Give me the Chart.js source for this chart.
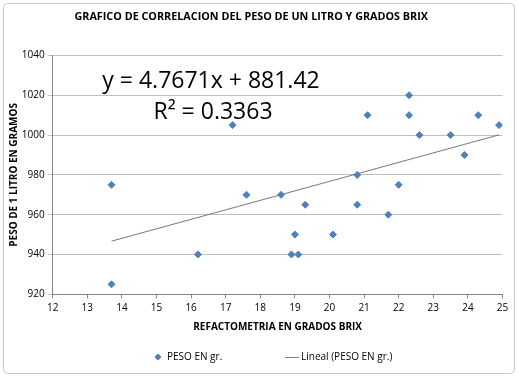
<!DOCTYPE html>
<html>
<head>
<meta charset="utf-8">
<script src="https://cdn.jsdelivr.net/npm/chart.js@4.4.0/dist/chart.umd.min.js"></script>
<style>
  html, body { margin: 0; padding: 0; background: #fff; }
  #wrap { width: 518px; height: 377px; }
</style>
</head>
<body>
<div id="wrap"><canvas id="chart" width="518" height="377"></canvas></div>
<script>
// Brix reading (x) and weight of one litre in grams (y)
const brix = [13.7, 13.7, 16.2, 17.2, 17.6, 18.6, 18.9, 19.0, 19.1, 19.3, 20.1, 20.8,
              20.8, 21.1, 21.7, 22.0, 22.3, 22.3, 22.6, 23.5, 23.9, 24.3, 24.9];
const peso = [975, 925, 940, 1005, 970, 970, 940, 950, 940, 965, 950, 980,
              965, 1010, 960, 975, 1020, 1010, 1000, 1000, 990, 1010, 1005];

// linear trendline ends, as drawn in the chart
const trendX = [13.7, 24.9];
const trendY = [946.7, 1000.1];

// axis ranges
const xRange = [12, 25];
const yRange = [920, 1040];

const seriesName = 'PESO EN gr.';
const trendName = 'Lineal (PESO EN gr.)';
const equationText = 'y = 4.7671x + 881.42';
const r2Text = 'R² = 0.3363';

const BLUE = '#4f81bd';
const AXIS = '#868686';

Chart.defaults.font.family = "'Open Sans', sans-serif";
Chart.defaults.color = '#000';

// border, equation label and legend
const decor = {
    id: 'decor',
    beforeDraw(chart) {
        const ctx = chart.ctx;
        ctx.save();
        ctx.fillStyle = '#fff';
        ctx.fillRect(0, 0, chart.width, chart.height);
        ctx.strokeStyle = '#c8c8c8';
        ctx.lineWidth = 1;
        ctx.beginPath();
        ctx.roundRect(3.5, 3.5, 511, 370, 4);
        ctx.stroke();
        ctx.restore();
    },
    afterDraw(chart) {
        const ctx = chart.ctx;
        ctx.save();
        ctx.fillStyle = '#000';
        ctx.textAlign = 'center';
        ctx.textBaseline = 'alphabetic';
        ctx.font = "23px 'Open Sans', sans-serif";
        ctx.fillText(equationText, 211, 88);
        ctx.fillText(r2Text, 213, 119);

        // legend
        const ly = 357;
        ctx.fillStyle = BLUE;
        ctx.strokeStyle = BLUE;
        Chart.helpers.drawPoint(ctx, { pointStyle: 'rectRot', radius: 3, borderWidth: 1 }, 158, ly);
        ctx.strokeStyle = '#7f7f7f';
        ctx.lineWidth = 1;
        ctx.beginPath();
        ctx.moveTo(285, ly + 0.5);
        ctx.lineTo(299, ly + 0.5);
        ctx.stroke();
        ctx.fillStyle = '#000';
        ctx.textAlign = 'left';
        ctx.textBaseline = 'middle';
        ctx.font = "10px 'Open Sans', sans-serif";
        ctx.fillText(seriesName, 167, ly);
        ctx.fillText(trendName, 301, ly);
        ctx.restore();
    }
};

const ctx = document.getElementById('chart').getContext('2d');
new Chart(ctx, {
    type: 'scatter',
    data: {
        datasets: [{
            label: seriesName,
            data: brix.map((x, i) => ({ x: x, y: peso[i] })),
            pointStyle: 'rectRot',
            pointRadius: 3.5,
            pointHoverRadius: 3.5,
            backgroundColor: BLUE,
            borderColor: BLUE,
            borderWidth: 1
        }, {
            label: trendName,
            type: 'line',
            data: trendX.map((x, i) => ({ x: x, y: trendY[i] })),
            borderColor: '#555',
            borderWidth: 0.8,
            pointRadius: 0,
            fill: false
        }]
    },
    options: {
        responsive: false,
        animation: false,
        layout: { padding: { left: 0, right: 15.5, top: 0, bottom: 40.7 } },
        plugins: {
            legend: { display: false },
            tooltip: { enabled: false },
            title: {
                display: true,
                text: 'GRAFICO DE CORRELACION DEL PESO DE UN LITRO Y GRADOS BRIX',
                font: { size: 10.8, weight: 'bold' },
                color: '#000',
                padding: { top: 10, bottom: 32.5 }
            }
        },
        scales: {
            x: {
                type: 'linear',
                min: xRange[0],
                max: xRange[1],
                afterFit(scale) { scale.height = 42; },
                ticks: { stepSize: 1, font: { size: 10 }, padding: 4 },
                grid: { drawOnChartArea: false, tickLength: 4, color: AXIS },
                border: { color: AXIS },
                title: {
                    display: true,
                    text: 'REFACTOMETRIA EN GRADOS BRIX',
                    font: { size: 10, weight: 'bold' },
                    padding: { top: 0, bottom: 3 }
                }
            },
            y: {
                min: yRange[0],
                max: yRange[1],
                afterFit(scale) { scale.width = 52.7; },
                ticks: { stepSize: 20, font: { size: 10 }, padding: 3, callback: v => String(v) },
                grid: { color: '#c0c0c0', tickLength: 5 },
                border: { color: AXIS },
                title: {
                    display: true,
                    text: 'PESO DE 1 LITRO EN GRAMOS',
                    font: { size: 10, weight: 'bold' },
                    padding: { top: 8, bottom: 0 }
                }
            }
        }
    },
    plugins: [decor]
});
</script>
</body>
</html>
